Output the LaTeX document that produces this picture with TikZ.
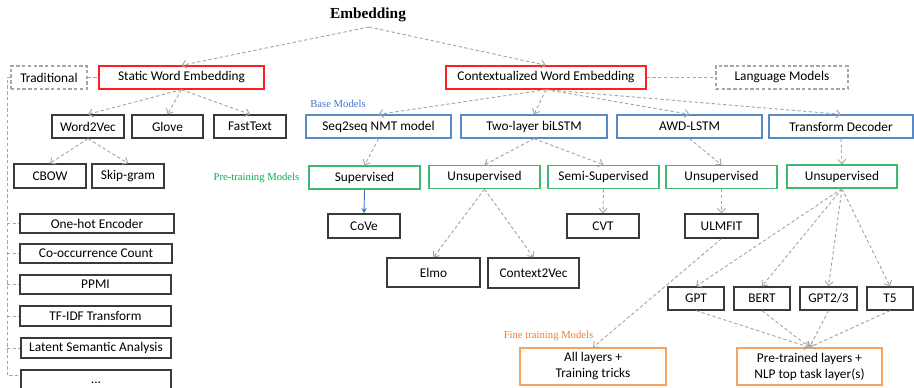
\documentclass[tikz,border=0pt]{standalone}
\usepackage{fontspec}
\setmainfont{Liberation Serif}
\newfontfamily\boxfont{Carlito}
\usetikzlibrary{arrows.meta}
\definecolor{cgray}{HTML}{A6A6A6}
\definecolor{cred}{HTML}{FF1F1F}
\definecolor{cblue}{HTML}{5A8AC6}
\definecolor{cgreen}{HTML}{3DBA6E}
\definecolor{corange}{HTML}{F4A460}
\definecolor{cdark}{HTML}{3A3A3A}
\definecolor{lblue}{HTML}{4472C4}
\definecolor{lgreen}{HTML}{00B050}
\definecolor{lorange}{HTML}{ED7D31}
\tikzset{
  bx/.style={draw=cdark, line width=1pt, inner sep=0pt, font=\boxfont\fontsize{10}{12}\selectfont, text=black},
  redbox/.style={bx, draw=cred},
  bluebox/.style={bx, draw=cblue},
  greenbox/.style={bx, draw=cgreen},
  orangebox/.style={bx, draw=corange, align=center},
  dashbox/.style={bx, draw=cgray, dashed, dash pattern=on 2.5pt off 1.8pt, line width=0.8pt},
  con/.style={draw=cgray, line width=0.7pt, dash pattern=on 2.5pt off 1.8pt, -{Straight Barb[length=3.2pt,width=6pt]}},
  lnk/.style={draw=cgray, line width=0.7pt, dash pattern=on 2.5pt off 1.8pt},
  lbl/.style={inner sep=0pt, font=\fontsize{8}{10}\selectfont}
}
\begin{document}
\begin{tikzpicture}[x=0.75pt,y=-0.75pt]
\useasboundingbox (0,0) rectangle (914,388);
% title
\node[inner sep=0pt, font=\bfseries\fontsize{11.5}{13}\selectfont] (emb) at (368,15) {Embedding};
\coordinate (embs) at (369,27);
% level 1
\node[dashbox, minimum width=57pt, minimum height=17.25pt] (trad) at (49,77.5) {Traditional};
\node[redbox, minimum width=123.75pt, minimum height=17.25pt] (static) at (181.5,77.5) {Static Word Embedding};
\node[redbox, minimum width=150pt, minimum height=17.25pt] (ctx) at (546,77.5) {Contextualized Word Embedding};
\node[dashbox, minimum width=99pt, minimum height=17.25pt] (lm) at (782,77.5) {Language Models};
% level 2
\node[bx, minimum width=54pt, minimum height=17.25pt] (w2v) at (88,126.5) {Word2Vec};
\node[bx, minimum width=53.25pt, minimum height=17.25pt] (glove) at (167.5,126.5) {Glove};
\node[bx, minimum width=54pt, minimum height=17.25pt] (fast) at (250,126.5) {FastText};
\node[bluebox, minimum width=108.75pt, minimum height=17.25pt] (seq) at (378.5,126.5) {Seq2seq NMT model};
\node[bluebox, minimum width=109.5pt, minimum height=17.25pt] (bil) at (534,126.5) {Two-layer biLSTM};
\node[bluebox, minimum width=108.75pt, minimum height=17.25pt] (awd) at (689.5,126.5) {AWD-LSTM};
\node[bluebox, minimum width=108pt, minimum height=17.25pt] (tdec) at (841,126.5) {Transform Decoder};
% labels
\node[lbl, text=lblue] (basel) at (338,104) {Base Models};
\node[lbl, text=lgreen] (prel) at (256.5,178) {Pre-training Models};
\node[lbl, text=lorange] (finel) at (548.5,336) {Fine training Models};
% level 3
\node[bx, minimum width=54pt, minimum height=18pt] (cbow) at (50,176) {CBOW};
\node[bx, minimum width=54pt, minimum height=18pt] (skip) at (128,176) {Skip-gram};
\node[greenbox, minimum width=83.25pt, minimum height=17.25pt] (sup) at (364.5,177.5) {Supervised};
\node[greenbox, minimum width=83.25pt, minimum height=17.25pt] (uns1) at (484.5,177) {Unsupervised};
\node[greenbox, minimum width=83.25pt, minimum height=17.25pt] (semi) at (603.5,177) {Semi-Supervised};
\node[greenbox, minimum width=83.25pt, minimum height=17.25pt] (uns2) at (721.5,177) {Unsupervised};
\node[greenbox, minimum width=82.5pt, minimum height=17.25pt] (uns3) at (842,176.5) {Unsupervised};
% level 4
\node[bx, minimum width=54pt, minimum height=18pt] (cove) at (364,226) {CoVe};
\node[bx, minimum width=54pt, minimum height=18pt] (cvt) at (603,226) {CVT};
\node[bx, minimum width=54.75pt, minimum height=18pt] (ulm) at (721.5,226) {ULMFIT};
\node[bx, minimum width=69.75pt, minimum height=21.75pt] (elmo) at (433.5,272.5) {Elmo};
\node[bx, minimum width=68.25pt, minimum height=22.5pt] (c2v) at (533.5,273) {Context2Vec};
\node[bx, minimum width=42pt, minimum height=17.25pt] (gpt) at (696,298.5) {GPT};
\node[bx, minimum width=42pt, minimum height=17.25pt] (bert) at (762,298.5) {BERT};
\node[bx, minimum width=42.75pt, minimum height=17.25pt] (gpt23) at (828.5,298.5) {GPT2/3};
\node[bx, minimum width=34.5pt, minimum height=17.25pt] (t5) at (890,298.5) {T5};
\node[orangebox, minimum width=109.5pt, minimum height=27.75pt] (all) at (593,366.5) {All layers +\\Training tricks};
\node[orangebox, minimum width=108.75pt, minimum height=27.75pt] (pre) at (809.5,366.5) {Pre-trained layers +\\NLP top task layer(s)};
% traditional list
\node[bx, minimum width=115.5pt, minimum height=14.25pt] (oneh) at (97,223.5) {One-hot Encoder};
\node[bx, minimum width=114pt, minimum height=14.25pt] (cooc) at (96,253.5) {Co-occurrence Count};
\node[bx, minimum width=113.25pt, minimum height=14.25pt] (ppmi) at (95.5,284.5) {PPMI};
\node[bx, minimum width=113.25pt, minimum height=15pt] (tfidf) at (95.5,316) {TF-IDF Transform};
\node[bx, minimum width=112.5pt, minimum height=15pt] (lsa) at (96,348) {Latent Semantic Analysis};
\node[bx, minimum width=112.5pt, minimum height=21pt, text depth=0pt] (dots) at (96,384) {};
\node[inner sep=0pt, font=\boxfont\fontsize{10}{12}\selectfont] (dotst) at (96,383) {...};
\coordinate (tl) at (7,77.5);
\coordinate (tb) at (7,375.5);
% connectors
\draw[con] (embs) -- (static.north);
\draw[con] (embs) -- (ctx.north);
\draw[lnk] (trad.east) -- (static.west);
\draw[lnk] (ctx.east) -- (lm.west);
\draw[lnk] (trad.west) -- (tl) -- (tb) -- (dots.west |- tb);
\draw[lnk] (tl |- oneh.west) -- (oneh.west);
\draw[lnk] (tl |- cooc.west) -- (cooc.west);
\draw[lnk] (tl |- ppmi.west) -- (ppmi.west);
\draw[lnk] (tl |- tfidf.west) -- (tfidf.west);
\draw[lnk] (tl |- lsa.west) -- (lsa.west);
\draw[con] (static.south) -- (w2v.north);
\draw[con] (static.south) -- (glove.north);
\draw[con] (static.south) -- (fast.north);
\draw[con] (w2v.south) -- (cbow.north);
\draw[con] (w2v.south) -- (skip.north);
\draw[con] (ctx.south) -- (seq.north);
\draw[con] (ctx.south) -- (bil.north);
\draw[con] (ctx.south) -- (awd.north);
\draw[con] (ctx.south) -- (tdec.north);
\draw[con] (seq.south) -- (sup.north);
\draw[lblue, line width=0.7pt, -{Stealth[length=4pt,width=4pt]}] (sup.south) -- (cove.north);
\draw[con] (bil.south) -- (uns1.north);
\draw[con] (bil.south) -- (semi.north);
\draw[con] (awd.south) -- (uns2.north);
\draw[con] (tdec.south) -- (uns3.north);
\draw[con] (uns1.south) -- (elmo.north);
\draw[con] (uns1.south) -- (c2v.north);
\draw[con] (semi.south) -- (cvt.north);
\draw[con] (uns2.south) -- (ulm.north);
\draw[con] (uns3.south) -- (gpt.north);
\draw[con] (uns3.south) -- (bert.north);
\draw[con] (uns3.south) -- (gpt23.north);
\draw[con] (uns3.south) -- (t5.north);
\draw[con] (ulm.south) -- (all.north);
\draw[con] (gpt.south) -- (pre.north);
\draw[con] (bert.south) -- (pre.north);
\draw[con] (gpt23.south) -- (pre.north);
\draw[con] (t5.south) -- (pre.north);
\end{tikzpicture}
\end{document}
